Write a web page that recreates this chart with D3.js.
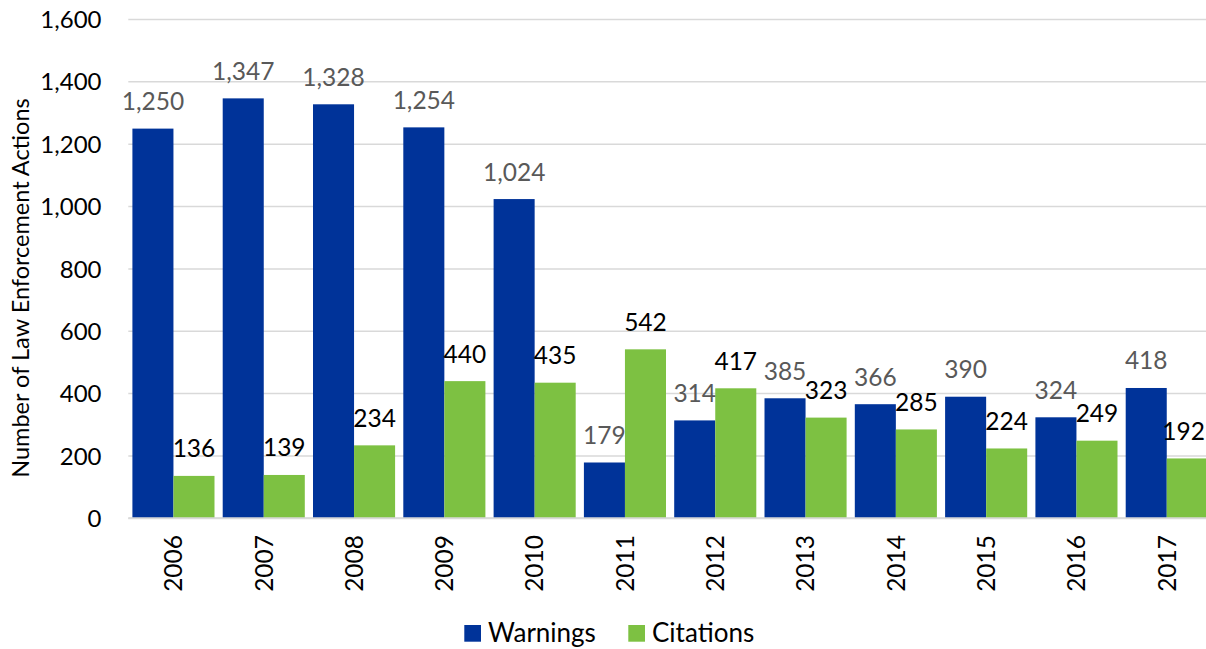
<!DOCTYPE html>
<html>
<head>
<meta charset="utf-8">
<script src="https://cdn.jsdelivr.net/npm/d3@7"></script>
<style>
  html, body { margin: 0; padding: 0; background: #fff; }
  svg { display: block; font-family: Lato, "Open Sans", sans-serif; }
</style>
</head>
<body>
<svg id="chart" width="1206" height="649"></svg>
<script>
const years = ["2006","2007","2008","2009","2010","2011","2012","2013","2014","2015","2016","2017"];
const warnings = [1250, 1347, 1328, 1254, 1024, 179, 314, 385, 366, 390, 324, 418];
const citations = [136, 139, 234, 440, 435, 542, 417, 323, 285, 224, 249, 192];
const seriesNames = ["Warnings", "Citations"];
const seriesColors = ["#003399", "#7DC142"];
const labelColors = ["#595959", "#000000"];
const yTicks = [0, 200, 400, 600, 800, 1000, 1200, 1400, 1600];
const yTitle = "Number of Law Enforcement Actions";

const svg = d3.select("#chart");
const W = 1206, H = 649;
const plotLeft = 128.3, plotRight = 1211.9, plotTop = 19.5, plotBottom = 518.3;

const x = d3.scaleBand().domain(years).range([plotLeft, plotRight]).padding(0);
const xs = d3.scaleBand().domain(seriesNames).range([0, x.bandwidth()]).paddingInner(0).paddingOuter(0.1);
const y = d3.scaleLinear().domain([0, 1600]).range([plotBottom, plotTop]);
const fmt = d3.format(",");

// gridlines
svg.append("g").selectAll("line").data(yTicks).join("line")
  .attr("x1", plotLeft).attr("x2", W)
  .attr("y1", d => y(d)).attr("y2", d => y(d))
  .attr("stroke", "#d9d9d9").attr("stroke-width", 1.5);

// y tick labels
svg.append("g").selectAll("text").data(yTicks).join("text")
  .attr("x", 101.5).attr("y", d => y(d))
  .attr("text-anchor", "end").attr("dy", "0.36em")
  .attr("font-size", 24).attr("fill", "#000")
  .text(d => fmt(d));

// y title
svg.append("text")
  .attr("transform", `translate(29,288) rotate(-90)`)
  .attr("text-anchor", "middle")
  .attr("font-size", 23.5).attr("fill", "#000")
  .text(yTitle);

const data = years.map((yr, i) => ({ year: yr, values: [warnings[i], citations[i]] }));

const groups = svg.append("g").selectAll("g").data(data).join("g")
  .attr("transform", d => `translate(${x(d.year)},0)`);

groups.selectAll("rect").data(d => d.values.map((v, k) => ({ key: seriesNames[k], v, k }))).join("rect")
  .attr("x", d => xs(d.key)).attr("width", xs.bandwidth())
  .attr("y", d => y(d.v)).attr("height", d => y(0) - y(d.v))
  .attr("fill", d => seriesColors[d.k]);

groups.selectAll("text").data(d => d.values.map((v, k) => ({ key: seriesNames[k], v, k, year: d.year }))).join("text")
  .attr("x", d => xs(d.key) + xs.bandwidth() / 2)
  .attr("y", d => y(d.v) - 18.5)
  .attr("text-anchor", "middle")
  .attr("font-size", 24.5)
  .attr("fill", d => labelColors[d.k])
  .text(d => fmt(d.v))
  .each(function(d) {
    // keep label inside the picture's right edge
    const half = this.getComputedTextLength() / 2;
    const cx = x(d.year) + xs(d.key) + xs.bandwidth() / 2;
    const maxC = W - half - 1;
    if (cx > maxC) d3.select(this).attr("x", xs(d.key) + xs.bandwidth() / 2 - (cx - maxC));
  });

// baseline
svg.append("line").attr("x1", plotLeft).attr("x2", W)
  .attr("y1", y(0)).attr("y2", y(0))
  .attr("stroke", "#d9d9d9").attr("stroke-width", 2);

// x labels
svg.append("g").selectAll("text").data(years).join("text")
  .attr("transform", d => `translate(${x(d) + x.bandwidth() / 2},535) rotate(-90)`)
  .attr("text-anchor", "end").attr("dy", "0.36em")
  .attr("font-size", 24.5).attr("fill", "#000")
  .text(d => d);

// legend
const legendItems = [{ name: "Warnings", sx: 464.3, tx: 488 }, { name: "Citations", sx: 628.3, tx: 652 }];
const lg = svg.append("g");
legendItems.forEach((it, k) => {
  lg.append("rect").attr("x", it.sx).attr("y", 625).attr("width", 16.7).attr("height", 16.7).attr("fill", seriesColors[k]);
  lg.append("text").attr("x", it.tx).attr("y", 642).attr("font-size", 26).attr("fill", "#000").text(it.name);
});
</script>
</body>
</html>
